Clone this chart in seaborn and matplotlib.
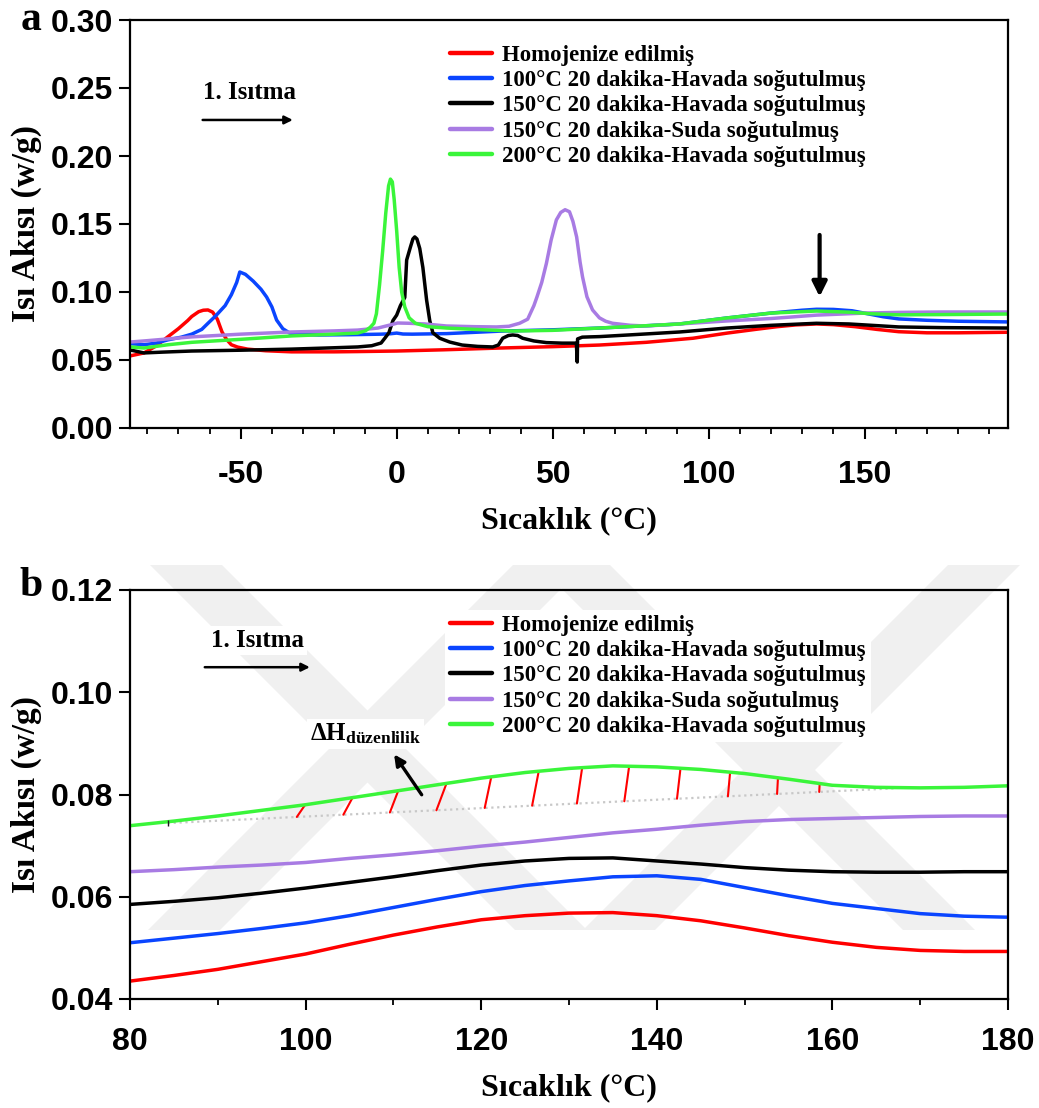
import numpy as np
import pandas as pd
import matplotlib
matplotlib.use("Agg")
import matplotlib.pyplot as plt
import seaborn as sns
from matplotlib.lines import Line2D
from matplotlib.patches import Polygon
from matplotlib.ticker import MultipleLocator, FormatStrFormatter

# ---------------- data ----------------
series_names = [
    "Homojenize edilmiş",
    "100°C 20 dakika-Havada soğutulmuş",
    "150°C 20 dakika-Havada soğutulmuş",
    "150°C 20 dakika-Suda soğutulmuş",
    "200°C 20 dakika-Havada soğutulmuş",
]
colors = ["#ff0000", "#0a45ff", "#000000", "#a87be3", "#3af53a"]

# panel a (full range)
red_x = [-85.5, -81, -77, -73.4, -70, -67, -65.7, -63.5, -62, -60.5, -59, -57.5, -56, -54.5, -53, -51, -47.8, -42, -33.7, -20, -12.5,
         0, 15, 33, 50, 65, 80, 95, 106, 115, 122, 128, 134.6, 140, 147, 154, 161, 170, 180, 196]
red_y = [0.0530, 0.0552, 0.0605, 0.0670, 0.0730, 0.0790, 0.0820, 0.0855, 0.0866, 0.0868, 0.0852, 0.0800, 0.0706, 0.0650, 0.0612, 0.0595, 0.0580, 0.0568, 0.0560, 0.0560, 0.0562,
         0.0566, 0.0575, 0.0588, 0.0598, 0.0610, 0.0630, 0.0660, 0.0698, 0.0725, 0.0745, 0.0758, 0.0765, 0.0760, 0.0745, 0.0725, 0.0708, 0.0700, 0.0700, 0.0704]

blue_x = [-85.5, -81, -77, -73.4, -69, -65.7, -62.5, -60.5, -58, -55, -53, -51.3, -50.3, -48.5, -46, -43.5, -41.7, -40, -38.5, -36.5, -34.3, -31, -25, -15,
          -5, -2, 0, 2, 5, 16, 33, 50, 65, 80, 90.7, 105.8, 120, 130, 134.6, 140, 146, 151, 156, 161, 170, 180, 196]
blue_y = [0.0620, 0.0612, 0.0625, 0.0648, 0.0668, 0.0690, 0.0725, 0.0770, 0.0825, 0.0900, 0.0980, 0.1070, 0.1147, 0.1130, 0.1080, 0.1020, 0.0963, 0.0890, 0.0794, 0.0730, 0.0698, 0.0688, 0.0684, 0.0686,
          0.0690, 0.0693, 0.0698, 0.0691, 0.0690, 0.0694, 0.0712, 0.0722, 0.0735, 0.0752, 0.0765, 0.0809, 0.0845, 0.0866, 0.0873, 0.0872, 0.0862, 0.0840, 0.0818, 0.0802, 0.0792, 0.0785, 0.0780]

black_x = [-85.5, -81, -75, -65.7, -50, -33.7, -20, -12.5, -8, -5, -3.8, -2.5, -1.2, 0, 1.2, 2.6, 3.2, 4.4, 5.2, 5.8, 6.5, 7.4, 8.4, 9.6, 10.6, 11.6, 13.8, 17, 21, 26, 30.8, 32.6, 34, 35.8, 37.2, 38.8, 40.4, 44, 48, 53, 57.6,
           57.9, 58.0, 59.5, 62, 65, 75, 90.7, 105.8, 120, 134.6, 145, 161, 175, 196]
black_y = [0.0574, 0.0552, 0.0558, 0.0566, 0.0572, 0.0580, 0.0590, 0.0596, 0.0605, 0.0625, 0.0660, 0.0700, 0.0790, 0.0830, 0.0900, 0.0960, 0.1235, 0.1330, 0.1390, 0.1405, 0.1390, 0.1320, 0.1180, 0.0940, 0.0790, 0.0700, 0.0660, 0.0632, 0.0610, 0.0600, 0.0596, 0.0610, 0.0660, 0.0680, 0.0684, 0.0680, 0.0660, 0.0640, 0.0628, 0.0624, 0.0624,
           0.0485, 0.0655, 0.0668, 0.0670, 0.0672, 0.0685, 0.0706, 0.0735, 0.0755, 0.0770, 0.0765, 0.0743, 0.0738, 0.0735]

purple_x = [-85.5, -80, -73.4, -65.7, -50, -33.7, -20, -12.5, -6, -2, 0.3, 4, 9, 16, 25, 32, 36, 39.4, 42, 44, 45, 46.5, 48, 49.5, 51.2, 52.6, 54, 55.4, 56.5, 57.7, 58.8, 59.6, 61,
            62.8, 65, 67, 69.2, 75, 80, 90.7, 105.8, 120, 134.6, 150, 161, 175, 196]
purple_y = [0.0632, 0.0642, 0.0655, 0.0670, 0.0690, 0.0706, 0.0714, 0.0720, 0.0735, 0.0758, 0.0772, 0.0770, 0.0765, 0.0750, 0.0745, 0.0743, 0.0748, 0.0770, 0.0800, 0.0900, 0.0965, 0.1070, 0.1210, 0.1380, 0.1530, 0.1585, 0.1605, 0.1590, 0.1520, 0.1405, 0.1220, 0.1110, 0.0965,
            0.0868, 0.0810, 0.0785, 0.0770, 0.0755, 0.0750, 0.0765, 0.0787, 0.0805, 0.0830, 0.0845, 0.0850, 0.0853, 0.0853]

green_x = [-85.5, -81, -73.4, -65.7, -50, -33.7, -20, -12.5, -10, -8.5, -7.3, -6.5, -5.5, -4.5, -3.5, -2.6, -2.0, -1.4, -0.8, 0, 0.8, 1.6, 2.6, 4, 6, 10,
           16, 25, 37, 50, 65, 80, 90.7, 105.8, 120, 134.6, 145, 152, 161, 175, 196]
green_y = [0.0596, 0.0588, 0.0612, 0.0630, 0.0652, 0.0677, 0.0690, 0.0698, 0.0715, 0.0740, 0.0770, 0.0840, 0.1050, 0.1300, 0.1580, 0.1780, 0.1830, 0.1810, 0.1680, 0.1450, 0.1180, 0.1000, 0.0890, 0.0810, 0.0770, 0.0745,
           0.0735, 0.0725, 0.0713, 0.0718, 0.0735, 0.0752, 0.0765, 0.0809, 0.0845, 0.0860, 0.0852, 0.0840, 0.0832, 0.0834, 0.0838]

# panel b (zoom 80-180 °C, curves offset)
b_x = [80, 85, 90, 95, 100, 105, 110, 115, 120, 125, 130, 135, 140, 145, 150, 155, 160, 165, 170, 175, 180]
b_red = [0.0435, 0.0446, 0.0458, 0.0473, 0.0488, 0.0507, 0.0525, 0.0541, 0.0555, 0.0563, 0.0568, 0.0569, 0.0563, 0.0553, 0.0539, 0.0524, 0.0511, 0.0501, 0.0495, 0.0493, 0.0493]
b_blue = [0.0510, 0.0519, 0.0528, 0.0538, 0.0549, 0.0563, 0.0579, 0.0595, 0.0610, 0.0622, 0.0631, 0.0639, 0.0641, 0.0634, 0.0618, 0.0602, 0.0587, 0.0577, 0.0567, 0.0562, 0.0560]
b_black = [0.0585, 0.0591, 0.0598, 0.0607, 0.0617, 0.0628, 0.0639, 0.0651, 0.0662, 0.0670, 0.0675, 0.0676, 0.0670, 0.0664, 0.0657, 0.0652, 0.0649, 0.0648, 0.0648, 0.0649, 0.0649]
b_purple = [0.0649, 0.0653, 0.0658, 0.0662, 0.0667, 0.0675, 0.0682, 0.0690, 0.0699, 0.0707, 0.0716, 0.0725, 0.0732, 0.0740, 0.0747, 0.0751, 0.0753, 0.0755, 0.0757, 0.0758, 0.0758]
b_green = [0.0739, 0.0748, 0.0758, 0.0769, 0.0780, 0.0793, 0.0806, 0.0819, 0.0832, 0.0843, 0.0851, 0.0856, 0.0854, 0.0849, 0.0841, 0.0830, 0.0818, 0.0814, 0.0813, 0.0814, 0.0817]

# ordering-enthalpy baseline and hatch marks
base_x = [84.3, 167.0]
base_y = [0.0744, 0.0812]
hatch_x = [99.0, 104.3, 109.6, 114.9, 120.4, 125.8, 130.9, 136.3, 142.3, 148.1, 153.7, 158.5]
hatch_dx = [0.95, 1.05, 0.95, 1.15, 0.75, 0.75, 0.6, 0.55, 0.4, 0.25, 0.1, 0.05]

# ---------------- style ----------------
sns.set_theme(style="ticks")
plt.rcParams["font.family"] = ["Liberation Sans", "DejaVu Sans"]
plt.rcParams["text.color"] = "black"
plt.rcParams["axes.labelcolor"] = "black"
plt.rcParams["xtick.color"] = "black"
plt.rcParams["ytick.color"] = "black"
plt.rcParams["axes.unicode_minus"] = False
plt.rcParams["mathtext.fontset"] = "custom"
plt.rcParams["mathtext.rm"] = "Liberation Serif:bold"
plt.rcParams["mathtext.bf"] = "Liberation Serif:bold"
plt.rcParams["mathtext.it"] = "Liberation Serif:bold"
SERIF = ["Liberation Serif", "DejaVu Serif"]

fig = plt.figure(figsize=(10.39, 11.08), dpi=100)
W, H = 1039, 1108

# faint background watermark (light grey diagonal bands), drawn beneath everything
def band(x_top, x_bot, y_top=565, y_bot=930, w=72):
    pts = [(x_top, y_top), (x_top + w, y_top), (x_bot + w, y_bot), (x_bot, y_bot)]
    return Polygon([(px / W, 1 - py / H) for px, py in pts], closed=True,
                   transform=fig.transFigure, facecolor="#f0f0f0", edgecolor="none", zorder=-5)

for xt, xb in [(150, 515), (513, 148), (538, 903), (948, 583)]:
    fig.patches.append(band(xt, xb))

ax1 = fig.add_axes([130 / W, 1 - 428 / H, 878 / W, 408 / H])
ax2 = fig.add_axes([130 / W, 1 - 999 / H, 878 / W, 409 / H])

top_sets = [(red_x, red_y), (blue_x, blue_y), (black_x, black_y), (purple_x, purple_y), (green_x, green_y)]
df_a = pd.concat([pd.DataFrame({"T": xs, "HF": ys, "series": name}) for name, (xs, ys) in zip(series_names, top_sets)],
                 ignore_index=True)
bot_sets = [b_red, b_blue, b_black, b_purple, b_green]
df_b = pd.concat([pd.DataFrame({"T": b_x, "HF": ys, "series": name}) for name, ys in zip(series_names, bot_sets)],
                 ignore_index=True)

palette = dict(zip(series_names, colors))
LW = 2.5
for name in series_names:
    sns.lineplot(data=df_a[df_a.series == name], x="T", y="HF", color=palette[name], linewidth=LW,
                 estimator=None, sort=False, legend=False, ax=ax1)
    sns.lineplot(data=df_b[df_b.series == name], x="T", y="HF", color=palette[name], linewidth=LW,
                 estimator=None, sort=False, legend=False, ax=ax2)

# baseline + hatch in panel b
ax2.plot(base_x, base_y, color="#c8c8c8", linestyle=":", linewidth=1.6, zorder=1)
ax2.plot([base_x[0]], [base_y[0]], marker="|", color="k", markersize=5, zorder=2)
slope = (base_y[1] - base_y[0]) / (base_x[1] - base_x[0])
for hx, dx in zip(hatch_x, hatch_dx):
    yb = base_y[0] + slope * (hx - base_x[0])
    yt = np.interp(hx + dx, b_x, b_green)
    ax2.plot([hx, hx + dx], [yb, yt], color="#ff0000", linewidth=1.5, zorder=1.5)

# axes formatting
for ax in (ax1, ax2):
    for s in ax.spines.values():
        s.set_linewidth(1.6)
        s.set_color("black")
    ax.set_facecolor("none")
    ax.tick_params(axis="both", which="major", direction="out", length=8, width=1.5, labelsize=23, colors="black")
    ax.tick_params(axis="both", which="minor", direction="out", length=4.5, width=1.3)
    ax.tick_params(axis="y", which="both", right=False, pad=4)

ax1.set_xlim(-85.5, 196)
ax1.set_ylim(0.0, 0.30)
ax1.xaxis.set_major_locator(MultipleLocator(50))
ax1.xaxis.set_minor_locator(MultipleLocator(10))
ax1.yaxis.set_major_locator(MultipleLocator(0.05))
ax1.yaxis.set_major_formatter(FormatStrFormatter("%.2f"))
ax1.tick_params(axis="x", which="major", pad=15)

ax2.set_xlim(80, 180)
ax2.set_ylim(0.04, 0.12)
ax2.xaxis.set_major_locator(MultipleLocator(20))
ax2.xaxis.set_minor_locator(MultipleLocator(10))
ax2.yaxis.set_major_locator(MultipleLocator(0.02))
ax2.yaxis.set_major_formatter(FormatStrFormatter("%.2f"))
ax2.tick_params(axis="x", which="major", pad=12)

for ax in (ax1, ax2):
    for lab in ax.get_xticklabels() + ax.get_yticklabels():
        lab.set_fontweight("bold")
    ax.set_xlabel("Sıcaklık (°C)", family=SERIF, fontweight="bold", fontsize=23, labelpad=12)
    ax.set_ylabel("Isı Akısı (w/g)", family=SERIF, fontweight="bold", fontsize=24, labelpad=6)

# legends
handles = [Line2D([0], [0], color=c, linewidth=3.2) for c in colors]
for ax in (ax1, ax2):
    ax.legend(handles, series_names, loc="upper left", bbox_to_anchor=(0.359, 0.951),
              prop={"family": SERIF, "weight": "bold", "size": 16.5}, frameon=True, fancybox=False,
              edgecolor="none", facecolor="white", framealpha=1.0, handlelength=1.85,
              handletextpad=0.45, labelspacing=0.19, borderpad=0.2, borderaxespad=0)

# annotations panel a
ax1.text(-47.1, 0.247, "1. Isıtma", family=SERIF, fontweight="bold", fontsize=18, ha="center", va="center")
ax1.annotate("", xy=(-32.4, 0.2265), xytext=(-63.1, 0.2265),
             arrowprops=dict(arrowstyle="-|>", color="black", lw=1.8, mutation_scale=12))
ax1.annotate("", xy=(135.6, 0.0945), xytext=(135.6, 0.144),
             arrowprops=dict(arrowstyle="-|>", color="black", lw=3, mutation_scale=22))

# annotations panel b
ax2.text(94.5, 0.1101, "1. Isıtma", family=SERIF, fontweight="bold", fontsize=18, ha="center", va="center",
         bbox=dict(facecolor="white", edgecolor="none", pad=2))
ax2.annotate("", xy=(100.8, 0.1049), xytext=(88.2, 0.1049),
             arrowprops=dict(arrowstyle="-|>", color="black", lw=1.8, mutation_scale=12))
ax2.text(106.8, 0.0918, "ΔH$_{\\mathrm{düzenlilik}}$", family=SERIF, fontweight="bold", fontsize=18,
         ha="center", va="center", bbox=dict(facecolor="white", edgecolor="none", pad=2))
ax2.annotate("", xy=(109.9, 0.0883), xytext=(113.4, 0.0795),
             arrowprops=dict(arrowstyle="-|>", color="black", lw=2.4, mutation_scale=16))

# panel letters
fig.text(31 / W, 1 - 20 / H, "a", family=SERIF, fontweight="bold", fontsize=30, ha="center", va="center")
fig.text(31 / W, 1 - 586 / H, "b", family=SERIF, fontweight="bold", fontsize=30, ha="center", va="center")

fig.savefig("out.png", dpi=100)
